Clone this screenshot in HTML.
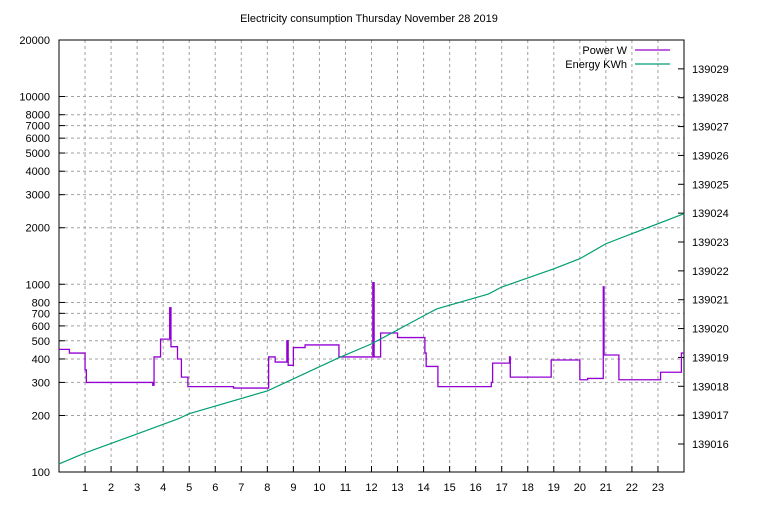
<!DOCTYPE html>
<html><head><meta charset="utf-8"><style>
body{margin:0;background:#fff}
svg text{font-family:"Liberation Sans",sans-serif;font-size:11px;fill:#000}
</style></head><body>
<svg id="c" width="768" height="500"></svg>
<script>
const yTicks=[100,200,300,400,500,600,700,800,1000,2000,3000,4000,5000,6000,7000,8000,10000,20000];
const xTicks=[1,2,3,4,5,6,7,8,9,10,11,12,13,14,15,16,17,18,19,20,21,22,23];
const y2Ticks=[139016,139017,139018,139019,139020,139021,139022,139023,139024,139025,139026,139027,139028,139029];
const powerHours=[0,0.4,1.0,1.05,3.6,3.65,3.9,4.25,4.3,4.55,4.7,4.95,6.7,8.05,8.3,8.75,8.8,9.0,9.45,10.75,12.05,12.1,12.35,13.0,14.05,14.1,14.55,16.6,16.65,17.3,17.33,18.9,20.0,20.3,20.9,20.93,21.5,23.1,23.9,24];
const powerValues=[450,430,350,300,290,410,510,750,465,400,320,285,280,410,385,500,370,460,475,410,1020,410,550,520,430,365,285,300,380,410,320,395,310,315,970,420,310,340,430,430];
const energyHours=[0,1,3,4.6,5,8,10.75,12,14,14.5,16.5,17,19,20,21,24];
const energyValues=[139015.31,139015.69,139016.35,139016.88,139017.05,139017.84,139018.99,139019.47,139020.44,139020.68,139021.2,139021.44,139022.07,139022.42,139022.94,139023.98];
const L=59,R=684,T=40,B=472;
const NS="http://www.w3.org/2000/svg";
const svg=document.getElementById('c');
const X=h=>L+(R-L)*h/24;
const Y=v=>B-(B-T)*Math.log10(v/100)/Math.log10(200);
const Y2=v=>B-(B-T)*(v-139015.03)/(139030-139015.03);
function mk(t,a,txt){const e=document.createElementNS(NS,t);for(const k in a)e.setAttribute(k,a[k]);if(txt!==undefined)e.textContent=txt;svg.appendChild(e);return e;}
let e;
e=mk('text',{x:369,y:22,'text-anchor':'middle'},'Electricity consumption Thursday November 28 2019');


xTicks.forEach(h=>{
 e=mk('line',{x1:X(h),x2:X(h),y1:T,y2:B,stroke:'#a0a0a0','stroke-dasharray':'3,3'});
 
 
 mk('line',{x1:X(h),x2:X(h),y1:B,y2:B-6,stroke:'#000'});
 e=mk('text',{x:X(h),y:B+19,'text-anchor':'middle'},h);
 
 
});
yTicks.forEach(v=>{
 if(v>100&&v<20000){e=mk('line',{x1:L,x2:R,y1:Y(v),y2:Y(v),stroke:'#a0a0a0','stroke-dasharray':'3,3'});
 
 }
 mk('line',{x1:L,x2:L+6,y1:Y(v),y2:Y(v),stroke:'#000'});
 e=mk('text',{x:L-9,y:Y(v)+4,'text-anchor':'end'},v);
 
 
});
y2Ticks.forEach(v=>{
 mk('line',{x1:R,x2:R-6,y1:Y2(v),y2:Y2(v),stroke:'#000'});
 e=mk('text',{x:R+8,y:Y2(v)+4},v);
 
 
});
e=mk('rect',{x:L,y:T,width:R-L,height:B-T,fill:'none',stroke:'#000'});


let d='';
for(let i=0;i<powerHours.length-1;i++){
 d+=(i?'L':'M')+X(powerHours[i])+','+Y(powerValues[i])+'L'+X(powerHours[i+1])+','+Y(powerValues[i]);
}
e=mk('path',{d:d,fill:'none',stroke:'#9400d3','stroke-width':1.3});


let d2=energyHours.map((h,i)=>(i?'L':'M')+X(h)+','+Y2(energyValues[i])).join('');
e=mk('path',{d:d2,fill:'none',stroke:'#009e73','stroke-width':1.2});


e=mk('text',{x:627,y:54,'text-anchor':'end'},'Power W');


e=mk('line',{x1:635,x2:670,y1:50,y2:50,stroke:'#9400d3','stroke-width':1.3});


e=mk('text',{x:627,y:68,'text-anchor':'end'},'Energy KWh');


e=mk('line',{x1:635,x2:670,y1:64,y2:64,stroke:'#009e73','stroke-width':1.2});


</script>
</body></html>
